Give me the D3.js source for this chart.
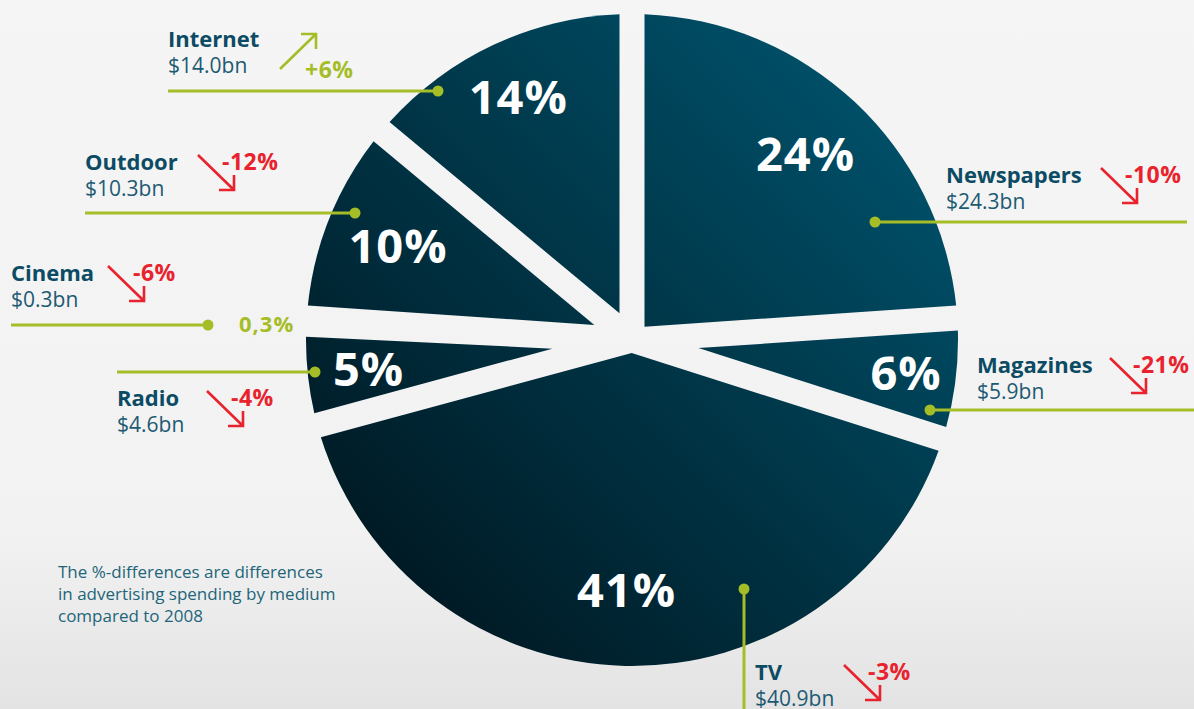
<!DOCTYPE html>
<html>
<head>
<meta charset="utf-8">
<script src="https://cdn.jsdelivr.net/npm/d3@7"></script>
<style>
  body { margin: 0; background: #f5f5f5; }
  svg { display: block; font-family: "Open Sans", "Noto Sans", sans-serif; }
</style>
</head>
<body>
<div id="chart"></div>
<script>
// data: ad spending by medium (bn $), share of total (%), change vs 2008 (%)
var media    = ["Newspapers", "Magazines", "TV", "Radio", "Cinema", "Outdoor", "Internet"];
var spend    = [24.3, 5.9, 40.9, 4.6, 0.3, 10.3, 14.0];
var sharePct = [24, 6, 41, 5, 0.3, 10, 14];
var changes  = [-10, -21, -3, -4, -6, -12, 6];

var width = 1194, height = 709;
var cx = 632, cy = 340, R = 326, gap = 25;

// radius of the white share label, per slice
var shareR = {"Newspapers": 254, "Magazines": 276, "TV": 250, "Radio": 265,
              "Cinema": 260, "Outdoor": 252, "Internet": 268};

// callout layout: name position, dot, leader end, arrow start, change text x
var callouts = {
  "Newspapers": {lx: 946, ly: 183, dot: [875, 222], lineTo: [1187, 222], ax: 1101, cx: 1125},
  "Magazines":  {lx: 977, ly: 373, dot: [930, 410], lineTo: [1194, 410], ax: 1110, cx: 1133},
  "TV":         {lx: 755, ly: 680, dot: [744, 589], lineTo: [744, 709],  ax: 844,  cx: 868},
  "Radio":      {lx: 117, ly: 406, dot: [315, 372], lineTo: [117, 372],  ax: 207,  cx: 231},
  "Cinema":     {lx: 11,  ly: 281, dot: [208, 325], lineTo: [11, 325],   ax: 108,  cx: 133},
  "Outdoor":    {lx: 85,  ly: 170, dot: [355, 213], lineTo: [85, 213],   ax: 198,  cx: 222},
  "Internet":   {lx: 168, ly: 47,  dot: [438, 91],  lineTo: [168, 91],   ax: 280,  cx: 305}
};

var green = "#a5bd26", red = "#e8232d", navy = "#0c4b64", teal = "#1d5a72";

function fmtShare(v) {
  return (v < 1 ? String(v).replace(".", ",") : v) + "%";
}

var svg = d3.select("#chart").append("svg")
    .attr("width", width)
    .attr("height", height);

var defs = svg.append("defs");

var bg = defs.append("linearGradient")
    .attr("id", "bg").attr("x1", 0).attr("y1", 0).attr("x2", 0).attr("y2", 1);
bg.append("stop").attr("offset", "0%").attr("stop-color", "#f5f5f5");
bg.append("stop").attr("offset", "75%").attr("stop-color", "#f2f2f2");
bg.append("stop").attr("offset", "100%").attr("stop-color", "#e3e3e3");

var pieFill = defs.append("linearGradient")
    .attr("id", "pieFill")
    .attr("gradientUnits", "userSpaceOnUse")
    .attr("x1", R * 0.75).attr("y1", -R * 0.75)
    .attr("x2", -R * 0.75).attr("y2", R * 0.75);
pieFill.append("stop").attr("offset", "0%").attr("stop-color", "#005069");
pieFill.append("stop").attr("offset", "100%").attr("stop-color", "#001923");

svg.append("rect")
    .attr("width", width).attr("height", height)
    .attr("fill", "url(#bg)");

var rows = media.map(function(m, i) {
  return {name: m, value: spend[i], share: sharePct[i], change: changes[i]};
});

var pie = d3.pie()
    .sort(null)
    .value(function(d) { return d.share; });

var arcs = pie(rows);

// wedge with a constant-width gap along each radius
function slicePath(d) {
  var half = gap / 2;
  var span = d.endAngle - d.startAngle;
  var da = Math.asin(half / R);
  if (span <= 2 * da) return null;
  var mid = (d.startAngle + d.endAngle) / 2;
  var apex = half / Math.sin(span / 2);
  var p = d3.path();
  p.moveTo(apex * Math.sin(mid), -apex * Math.cos(mid));
  p.lineTo(R * Math.sin(d.startAngle + da), -R * Math.cos(d.startAngle + da));
  p.arc(0, 0, R, d.startAngle + da - Math.PI / 2, d.endAngle - da - Math.PI / 2);
  p.closePath();
  return p.toString();
}

var shown = arcs.filter(function(d) { return slicePath(d); });

var g = svg.append("g")
    .attr("transform", "translate(" + cx + "," + cy + ")");

g.selectAll("path")
    .data(shown)
    .enter().append("path")
    .attr("d", slicePath)
    .attr("fill", "url(#pieFill)");

g.selectAll("text.share")
    .data(shown)
    .enter().append("text")
    .attr("class", "share")
    .attr("transform", function(d) {
      var r = shareR[d.data.name];
      return "translate(" + d3.arc().innerRadius(r).outerRadius(r).centroid(d) + ")";
    })
    .attr("text-anchor", "middle")
    .attr("dy", "0.36em")
    .attr("fill", "#fff")
    .attr("font-size", 47)
    .attr("font-weight", 700)
    .attr("letter-spacing", 1)
    .text(function(d) { return fmtShare(d.data.share); });

// callouts
var co = svg.append("g").selectAll("g")
    .data(rows)
    .enter().append("g");

co.append("line")
    .attr("x1", function(d) { return callouts[d.name].dot[0]; })
    .attr("y1", function(d) { return callouts[d.name].dot[1]; })
    .attr("x2", function(d) { return callouts[d.name].lineTo[0]; })
    .attr("y2", function(d) { return callouts[d.name].lineTo[1]; })
    .attr("stroke", green)
    .attr("stroke-width", 3);

co.append("circle")
    .attr("cx", function(d) { return callouts[d.name].dot[0]; })
    .attr("cy", function(d) { return callouts[d.name].dot[1]; })
    .attr("r", 5.5)
    .attr("fill", green);

co.append("text")
    .attr("x", function(d) { return callouts[d.name].lx; })
    .attr("y", function(d) { return callouts[d.name].ly; })
    .attr("fill", navy)
    .attr("font-size", 22)
    .attr("font-weight", 700)
    .text(function(d) { return d.name; });

co.append("text")
    .attr("x", function(d) { return callouts[d.name].lx; })
    .attr("y", function(d) { return callouts[d.name].ly + 26; })
    .attr("fill", teal)
    .attr("font-size", 21)
    .text(function(d) { return "$" + d.value.toFixed(1) + "bn"; });

// change arrows
co.append("path")
    .attr("d", function(d) {
      var c = callouts[d.name], x = c.ax;
      if (d.change > 0) {
        var y0 = c.ly + 22, tx = x + 36, ty = y0 - 35;
        return "M" + x + "," + y0 + "L" + tx + "," + ty +
               "M" + (tx - 15) + "," + ty + "L" + tx + "," + ty + "L" + tx + "," + (ty + 15);
      }
      var y1 = c.ly - 15, bx = x + 36, by = y1 + 35;
      return "M" + x + "," + y1 + "L" + bx + "," + by +
             "M" + (bx - 15) + "," + by + "L" + bx + "," + by + "L" + bx + "," + (by - 15);
    })
    .attr("fill", "none")
    .attr("stroke", function(d) { return d.change > 0 ? green : red; })
    .attr("stroke-width", 2.6);

co.append("text")
    .attr("x", function(d) { return callouts[d.name].cx; })
    .attr("y", function(d) { return d.change > 0 ? callouts[d.name].ly + 31 : callouts[d.name].ly; })
    .attr("fill", function(d) { return d.change > 0 ? green : red; })
    .attr("font-size", 23)
    .attr("font-weight", 700)
    .attr("letter-spacing", 0.5)
    .text(function(d) { return (d.change > 0 ? "+" : "") + d.change + "%"; });

// share of the slice too thin to draw
svg.append("text")
    .attr("x", 239)
    .attr("y", 332)
    .attr("fill", green)
    .attr("font-size", 22)
    .attr("font-weight", 700)
    .attr("letter-spacing", 1)
    .text(fmtShare(sharePct[media.indexOf("Cinema")]));

// note
var note = ["The %-differences are differences",
            "in advertising spending by medium",
            "compared to 2008"];
svg.append("g").selectAll("text")
    .data(note)
    .enter().append("text")
    .attr("x", 58)
    .attr("y", function(d, i) { return 578 + i * 22; })
    .attr("fill", "#226579")
    .attr("font-size", 17)
    .text(function(d) { return d; });
</script>
</body>
</html>
